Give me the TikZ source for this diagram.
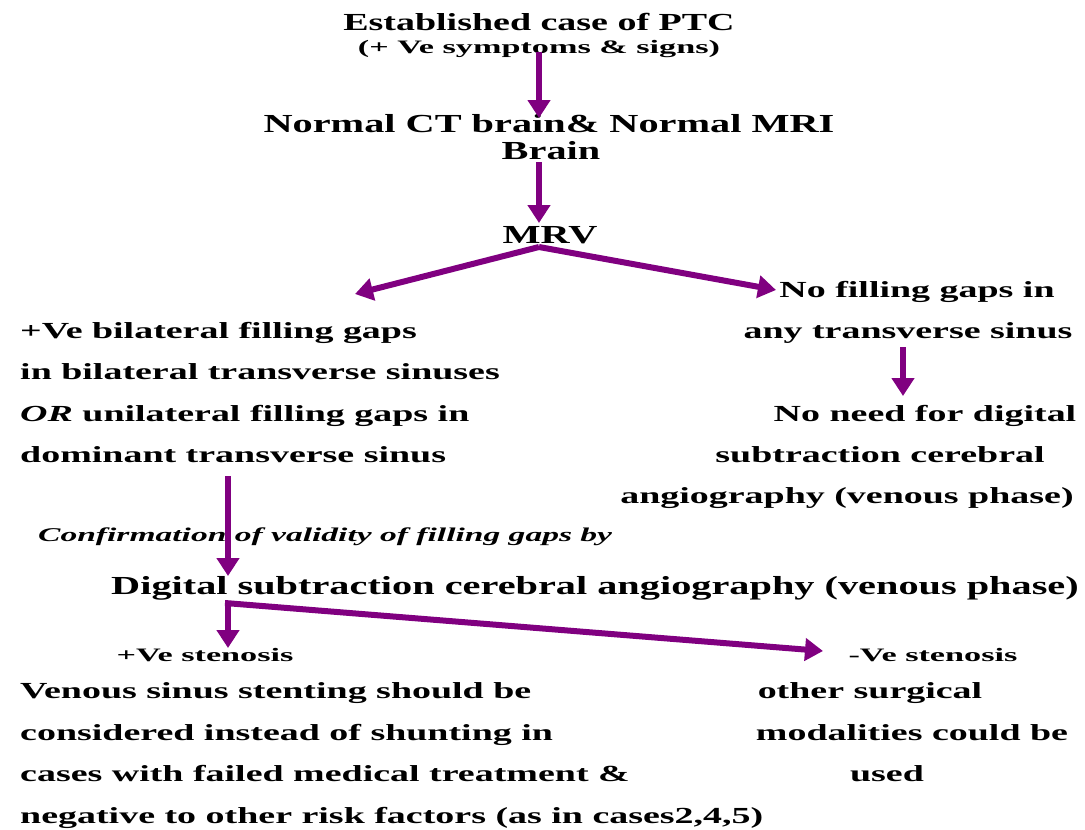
\documentclass[tikz,border=0pt]{standalone}
\usepackage{fontspec}
\setmainfont{Liberation Serif}
\newfontfamily\hdf[FakeStretch=1.55]{Liberation Serif}
\newfontfamily\bdf[FakeStretch=1.65]{Liberation Serif}
\newfontfamily\smf[FakeStretch=1.8]{Liberation Serif}
\newfontfamily\itf[FakeStretch=1.72]{Liberation Serif}
\usetikzlibrary{arrows.meta}
\definecolor{arrpurple}{RGB}{128,0,128}
\tikzset{
  hd/.style={font=\hdf\bfseries\fontsize{26}{30}\selectfont, inner sep=0pt, anchor=base},
  bd/.style={font=\bdf\bfseries\fontsize{23}{27}\selectfont, inner sep=0pt, anchor=base west},
  bdc/.style={font=\bdf\bfseries\fontsize{23}{27}\selectfont, inner sep=0pt, anchor=base},
  sm/.style={font=\smf\bfseries\fontsize{19}{22}\selectfont, inner sep=0pt, anchor=base},
  it/.style={font=\itf\bfseries\itshape\fontsize{19.5}{23}\selectfont, inner sep=0pt, anchor=base west},
  arr/.style={draw=arrpurple, line width=6pt, -{Triangle[width=22pt,length=18pt]}},
}
\begin{document}
\begin{tikzpicture}[x=1pt,y=-1pt]
\useasboundingbox (0,0) rectangle (1085,830);
% header nodes
\node[hd, font=\hdf\bfseries\fontsize{24.5}{28}\selectfont] (est) at (539,30) {Established case of PTC};
\node[sm] (sym) at (539,53) {(+ Ve symptoms \& signs)};
\node[hd] (nct) at (549,132) {Normal CT brain\& Normal MRI};
\node[hd] (brn) at (551,159) {Brain};
\node[hd] (mrv) at (550,243) {MRV};
% left column
\node[bd] (l1) at (20,338) {+Ve bilateral filling gaps};
\node[bd] (l2) at (20,379) {in bilateral transverse sinuses};
\node[bd] (l3) at (20,421) {{\itshape OR} unilateral filling gaps in};
\node[bd] (l4) at (20,462) {dominant transverse sinus};
% right column
\node[bdc] (r1) at (917,297) {No filling gaps in};
\node[bdc] (r2) at (908,338) {any transverse sinus};
\node[bdc] (r3) at (925,421) {No need for digital};
\node[bdc] (r4) at (880,462) {subtraction cerebral};
\node[bdc] (r5) at (847,503) {angiography (venous phase)};
% confirmation
\node[it] (conf) at (38,541) {Confirmation of validity of filling gaps by};
\node[hd] (dsa) at (595,594) {Digital subtraction cerebral angiography (venous phase)};
% stenosis
\node[sm] (pst) at (205,661) {+Ve stenosis};
\node[sm] (nst) at (933,661) {-Ve stenosis};
% bottom left
\node[bd] (b1) at (20,698) {Venous sinus stenting should be};
\node[bd] (b2) at (20,740) {considered instead of shunting in};
\node[bd] (b3) at (20,781) {cases with failed medical treatment \&};
\node[bd] (b4) at (20,823) {negative to other risk factors (as in cases2,4,5)};
% bottom right
\node[bdc] (c1) at (870,698) {other surgical};
\node[bdc] (c2) at (912,740) {modalities could be};
\node[bdc] (c3) at (887,781) {used};
% connector points
\coordinate (a1s) at (539,52);
\coordinate (a1e) at (539,118);
\coordinate (a2s) at (539,162);
\coordinate (a2e) at (539,223);
\coordinate (fk) at (539,247);
\coordinate (fl) at (355,294);
\coordinate (fr) at (776,290);
\coordinate (a3s) at (903,347);
\coordinate (a3e) at (903,396);
\coordinate (a4s) at (228,476);
\coordinate (a4e) at (228,576);
\coordinate (fk2) at (228,603);
\coordinate (pl) at (228,648);
\coordinate (pr) at (823,651);
\draw[arr] (a1s) -- (a1e);
\draw[arr] (a2s) -- (a2e);
\draw[arr] (fk) -- (fl);
\draw[arr] (fk) -- (fr);
\draw[arr] (a3s) -- (a3e);
\draw[arr] (a4s) -- (a4e);
\draw[arr] (fk2) -- (pl);
\draw[arr] ([xshift=-3pt]fk2) -- (pr);
\end{tikzpicture}
\end{document}
